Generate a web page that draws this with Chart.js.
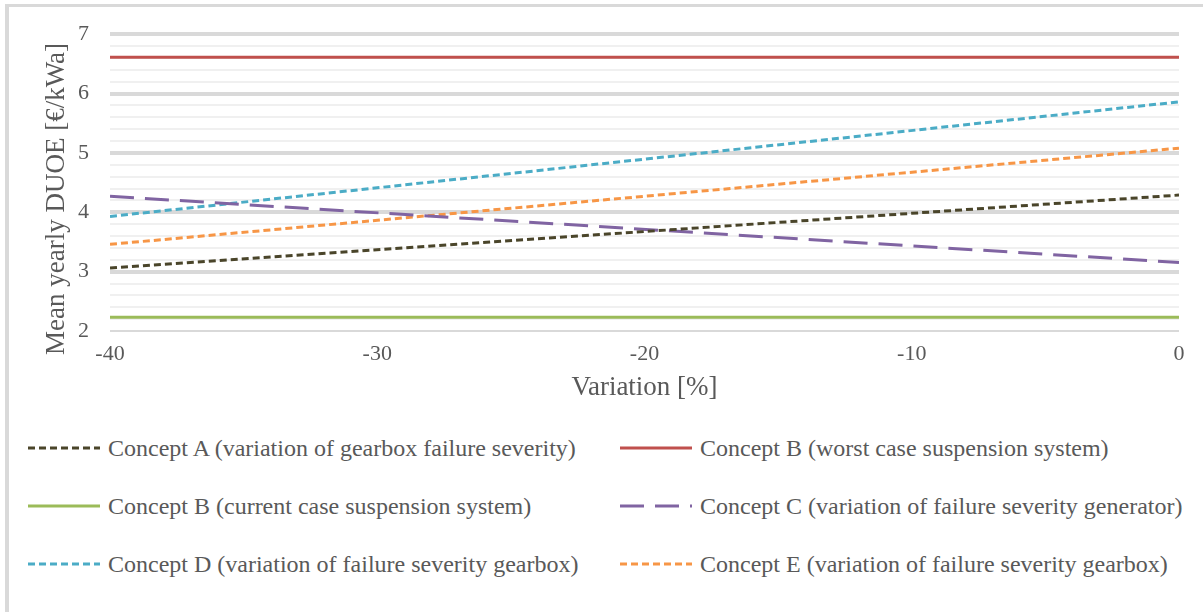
<!DOCTYPE html>
<html>
<head>
<meta charset="utf-8">
<script src="https://cdn.jsdelivr.net/npm/chart.js@4/dist/chart.umd.min.js"></script>
<style>
  html, body { margin: 0; padding: 0; background: #fff; }
  body { width: 1203px; height: 612px; position: relative; overflow: hidden; font-family: "Liberation Serif", "Times New Roman", serif; }
  #frame { position: absolute; left: 5px; top: 4px; width: 1400px; height: 800px; border-left: 4px solid #d9d9d9; border-top: 3px solid #d9d9d9; }
  #chartBox { position: absolute; left: 0; top: 0; width: 1203px; height: 410px; }
  .legend { position: absolute; display: flex; align-items: center; font-size: 24px; color: #595959; white-space: nowrap; }
  .legend svg { margin-right: 8px; }
</style>
</head>
<body>
<div id="frame"></div>
<div id="chartBox"><canvas id="chart" width="1203" height="410"></canvas></div>
<div id="legend"></div>
<script>
// Data
const variation = [-40, 0];
const conceptA = [3.06, 4.29];
const conceptBWorst = [6.61, 6.61];
const conceptBCurrent = [2.23, 2.23];
const conceptC = [4.27, 3.155];
const conceptD = [3.93, 5.86];
const conceptE = [3.46, 5.08];

const xTicks = [-40, -30, -20, -10, 0];

const seriesLabels = [
    'Concept A (variation of gearbox failure severity)',
    'Concept B (worst case suspension system)',
    'Concept B (current case suspension system)',
    'Concept C (variation of failure severity generator)',
    'Concept D (variation of failure severity gearbox)',
    'Concept E (variation of failure severity gearbox)'
];

const textColor = '#595959';
const dotted = [7, 4];
const longDash = [24, 11];

function toPoints(values) {
    return variation.map((x, i) => ({ x: x, y: values[i] }));
}

const series = [
    { label: seriesLabels[0], values: conceptA, color: '#4a452a', dash: dotted },
    { label: seriesLabels[1], values: conceptBWorst, color: '#c0504d', dash: [] },
    { label: seriesLabels[2], values: conceptBCurrent, color: '#9bbb59', dash: [] },
    { label: seriesLabels[3], values: conceptC, color: '#8064a2', dash: longDash },
    { label: seriesLabels[4], values: conceptD, color: '#4bacc6', dash: dotted },
    { label: seriesLabels[5], values: conceptE, color: '#f79646', dash: dotted }
];

function isMajor(v) {
    return Math.abs(v - Math.round(v)) < 1e-6;
}

// Rotated y title drawn by hand so it can sit where Excel put it
const yTitlePlugin = {
    id: 'yTitle',
    afterDraw(chart) {
        const c = chart.ctx;
        c.save();
        c.translate(57, 199);
        c.rotate(-Math.PI / 2);
        c.font = '27px "Liberation Serif"';
        c.fillStyle = textColor;
        c.textAlign = 'center';
        c.textBaseline = 'middle';
        c.fillText('Mean yearly DUOE [€/kWa]', 0, 0);
        c.restore();
    }
};

const ctx = document.getElementById('chart').getContext('2d');
const chart = new Chart(ctx, {
    type: 'line',
    data: {
        datasets: series.map(s => ({
            label: s.label,
            data: toPoints(s.values),
            borderColor: s.color,
            backgroundColor: s.color,
            borderDash: s.dash,
            borderWidth: 3,
            pointRadius: 0,
            fill: false,
            tension: 0
        }))
    },
    options: {
        responsive: false,
        animation: false,
        layout: { padding: { top: 31, right: 24, bottom: 0, left: 0 } },
        plugins: {
            legend: { display: false },
            tooltip: { enabled: false }
        },
        scales: {
            x: {
                type: 'linear',
                min: -40,
                max: 0,
                afterBuildTicks: scale => { scale.ticks = xTicks.map(v => ({ value: v })); },
                grid: { display: false, drawTicks: false },
                border: { display: false },
                ticks: {
                    color: textColor,
                    font: { family: 'Liberation Serif', size: 22 },
                    padding: 10,
                    maxRotation: 0
                },
                title: {
                    display: true,
                    text: 'Variation [%]',
                    color: textColor,
                    font: { family: 'Liberation Serif', size: 27 },
                    padding: { top: 0, bottom: 6 }
                },
                afterFit: scale => { scale.height = 79; }
            },
            y: {
                min: 2,
                max: 7,
                grid: {
                    drawTicks: false,
                    color: c => isMajor(c.tick.value) ? '#d9d9d9' : '#f0f0f0',
                    lineWidth: c => c.tick.value === 2 ? 2 : (isMajor(c.tick.value) ? 4 : 2)
                },
                border: { display: false },
                ticks: {
                    stepSize: 0.2,
                    autoSkip: false,
                    color: textColor,
                    font: { family: 'Liberation Serif', size: 22 },
                    padding: 21,
                    callback: v => isMajor(v) ? String(Math.round(v)) : ''
                },
                afterFit: scale => { scale.width = 110; }
            }
        }
    },
    plugins: [yTitlePlugin]
});

// HTML legend in two columns like the reference
const legendBox = document.getElementById('legend');
const colX = [28, 620];
const rowY = [448, 506, 564];
series.forEach((s, i) => {
    const item = document.createElement('div');
    item.className = 'legend';
    item.style.left = colX[i % 2] + 'px';
    item.style.top = (rowY[Math.floor(i / 2)] - 15) + 'px';
    item.style.height = '30px';
    const dashAttr = s.dash.length ? ` stroke-dasharray="${s.dash.join(' ')}"` : '';
    item.innerHTML = `<svg width="72" height="6"><line x1="0" y1="3" x2="72" y2="3" stroke="${s.color}" stroke-width="3"${dashAttr}/></svg><span>${s.label}</span>`;
    legendBox.appendChild(item);
});
</script>
</body>
</html>
